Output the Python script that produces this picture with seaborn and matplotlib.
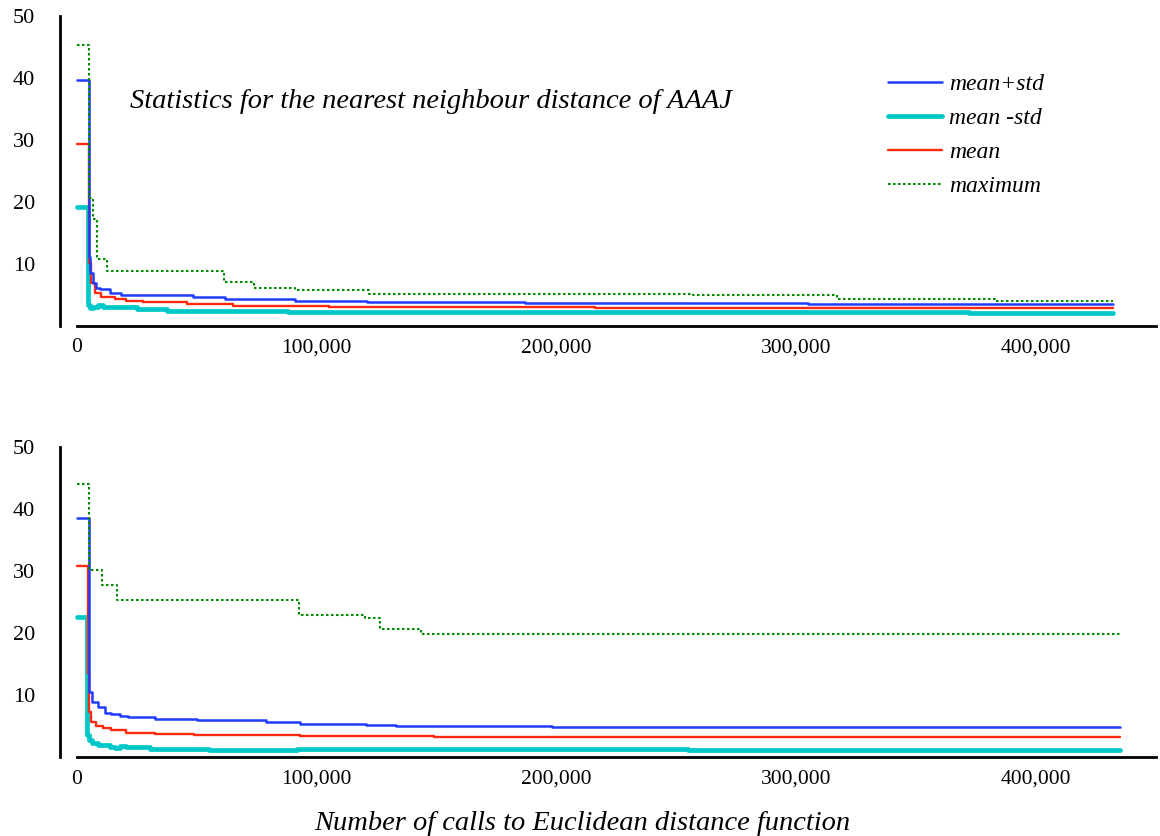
import matplotlib
matplotlib.use("Agg")
import matplotlib.pyplot as plt
import seaborn as sns
from matplotlib.ticker import FixedLocator

# ---- data: step values of the nearest-neighbour distance statistics ----
# upper panel (AAAJ)
top_std_hi_x = [0, 5100, 5700, 6800, 8200, 9600, 13700, 18600, 48300, 61700, 91000, 121000, 187000, 305000, 432000]
top_std_hi_y = [39.7, 11.2, 8.5, 6.9, 6.2, 5.9, 5.4, 5.0, 4.6, 4.4, 4.1, 3.9, 3.75, 3.6, 3.6]

top_std_lo_x = [0, 4600, 5400, 6800, 9000, 11000, 16000, 25000, 37500, 88000, 372000, 432000]
top_std_lo_y = [19.2, 3.4, 2.9, 3.1, 3.4, 3.1, 3.0, 2.8, 2.5, 2.3, 2.05, 2.05]

top_mean_x = [0, 5100, 6100, 7500, 10300, 15800, 20700, 27500, 45800, 65000, 105000, 216000, 432000]
top_mean_y = [29.3, 10.1, 6.9, 5.3, 4.6, 4.3, 4.1, 3.85, 3.6, 3.3, 3.1, 2.95, 2.95]

top_max_x = [0, 5100, 6800, 8600, 12400, 61500, 74000, 91000, 122000, 257000, 317000, 383000, 432000]
top_max_y = [45.4, 20.6, 17.2, 10.8, 8.9, 7.1, 6.2, 5.8, 5.2, 5.0, 4.3, 4.0, 4.0]

# lower panel
bot_std_hi_x = [0, 5000, 6400, 8900, 11700, 14400, 17900, 21400, 32500, 50000, 79000, 93000, 120700, 133000, 198000, 435000]
bot_std_hi_y = [38.6, 10.5, 8.9, 8.1, 7.1, 6.9, 6.6, 6.4, 6.1, 5.9, 5.6, 5.4, 5.15, 5.05, 4.85, 4.85]

bot_std_lo_x = [0, 4300, 5300, 6500, 8900, 13700, 15800, 17900, 20700, 30400, 55000, 92000, 255000, 435000]
bot_std_lo_y = [22.6, 3.5, 2.7, 2.2, 1.9, 1.6, 1.45, 1.8, 1.6, 1.35, 1.1, 1.3, 1.05, 1.05]

bot_mean_x = [0, 4800, 5300, 5800, 8200, 11000, 14400, 20700, 32500, 49000, 93000, 149000, 435000]
bot_mean_y = [30.8, 13.5, 7.3, 5.7, 5.0, 4.7, 4.3, 3.95, 3.7, 3.5, 3.35, 3.15, 3.15]

bot_max_x = [0, 5100, 10600, 16800, 92600, 120000, 126500, 143700, 435000]
bot_max_y = [44.1, 30.2, 27.7, 25.3, 22.9, 22.4, 20.7, 19.9, 19.9]

series_labels = ["mean+std", "mean -std", "mean", "maximum"]
x_tick_values = [0, 100000, 200000, 300000, 400000]
x_tick_labels = ["0", "100,000", "200,000", "300,000", "400,000"]
y_tick_values = [0, 10, 20, 30, 40, 50]
y_tick_labels = ["", "10", "20", "30", "40", "50"]

title_text = "Statistics for the nearest neighbour distance of AAAJ"
xlabel_text = "Number of calls to Euclidean distance function"

# ---- style ----
sns.set_style("white")
plt.rcParams["font.family"] = ["Liberation Serif", "DejaVu Serif"]
plt.rcParams["text.color"] = "black"

c_hi = "#1f3cff"
c_lo = "#00c8c8"
c_mean = "#ff2a10"
c_max = "#008a00"

fig = plt.figure(figsize=(11.6, 8.36), dpi=100)
W, H = 1160, 836
ax_top = fig.add_axes([60 / W, 510 / H, 1096 / W, 310 / H])
ax_bot = fig.add_axes([60 / W, 79 / H, 1096 / W, 310 / H])


def draw_panel(ax, hi, lo, mean, mx):
    common = dict(ax=ax, estimator=None, sort=False, drawstyle="steps-post")
    sns.lineplot(x=lo[0], y=lo[1], color=c_lo, lw=3.4, label=series_labels[1], zorder=2, **common)
    sns.lineplot(x=mean[0], y=mean[1], color=c_mean, lw=1.7, label=series_labels[2], zorder=3, **common)
    sns.lineplot(x=hi[0], y=hi[1], color=c_hi, lw=1.8, label=series_labels[0], zorder=4, **common)
    sns.lineplot(x=mx[0], y=mx[1], color=c_max, lw=1.5, linestyle=(0, (1.2, 1.2)),
                 label=series_labels[3], zorder=5, **common)

    ax.set_xlim(-7000, 450000)
    ax.set_ylim(0, 50)
    ax.set_xlabel("")
    ax.set_ylabel("")
    for s in ("top", "right"):
        ax.spines[s].set_visible(False)
    ax.spines["left"].set_bounds(0, 50)
    ax.spines["bottom"].set_bounds(0, 450000)
    for s in ("left", "bottom"):
        ax.spines[s].set_linewidth(2.0)
        ax.spines[s].set_color("black")

    ax.xaxis.set_major_locator(FixedLocator(x_tick_values))
    ax.set_xticklabels(x_tick_labels)
    ax.xaxis.set_minor_locator(FixedLocator([50000, 150000, 250000, 350000, 450000]))
    ax.yaxis.set_major_locator(FixedLocator(y_tick_values))
    ax.set_yticklabels(y_tick_labels)
    ax.tick_params(axis="both", which="both", direction="in", length=6, width=2.0,
                   color="black", labelcolor="black")
    ax.tick_params(axis="x", which="major", labelsize=15.5, pad=9)
    ax.tick_params(axis="y", which="major", labelsize=16, pad=18)
    ax.grid(False)


draw_panel(ax_top, (top_std_hi_x, top_std_hi_y), (top_std_lo_x, top_std_lo_y),
           (top_mean_x, top_mean_y), (top_max_x, top_max_y))
draw_panel(ax_bot, (bot_std_hi_x, bot_std_hi_y), (bot_std_lo_x, bot_std_lo_y),
           (bot_mean_x, bot_mean_y), (bot_max_x, bot_max_y))

# legend only on the upper panel, in the order mean+std, mean -std, mean, maximum
handles, labels = ax_top.get_legend_handles_labels()
order = [labels.index(l) for l in series_labels]
leg = ax_top.legend([handles[i] for i in order], [labels[i] for i in order],
                    loc="upper left", bbox_to_anchor=(0.7445, 0.853), frameon=False,
                    borderpad=0, handlelength=2.3, handletextpad=0.3, labelspacing=0.535,
                    prop={"family": "Liberation Serif", "style": "italic", "size": 17})
for t in leg.get_texts():
    t.set_color("black")
ax_bot.get_legend().remove()

ax_top.text(0.064, 0.723, title_text, transform=ax_top.transAxes, ha="left", va="center",
            fontsize=20.5, fontstyle="italic", color="black")
fig.text(582 / W, 13 / H, xlabel_text, ha="center", va="center", fontsize=20.5,
         fontstyle="italic", color="black")

fig.savefig("out.png", dpi=100)
